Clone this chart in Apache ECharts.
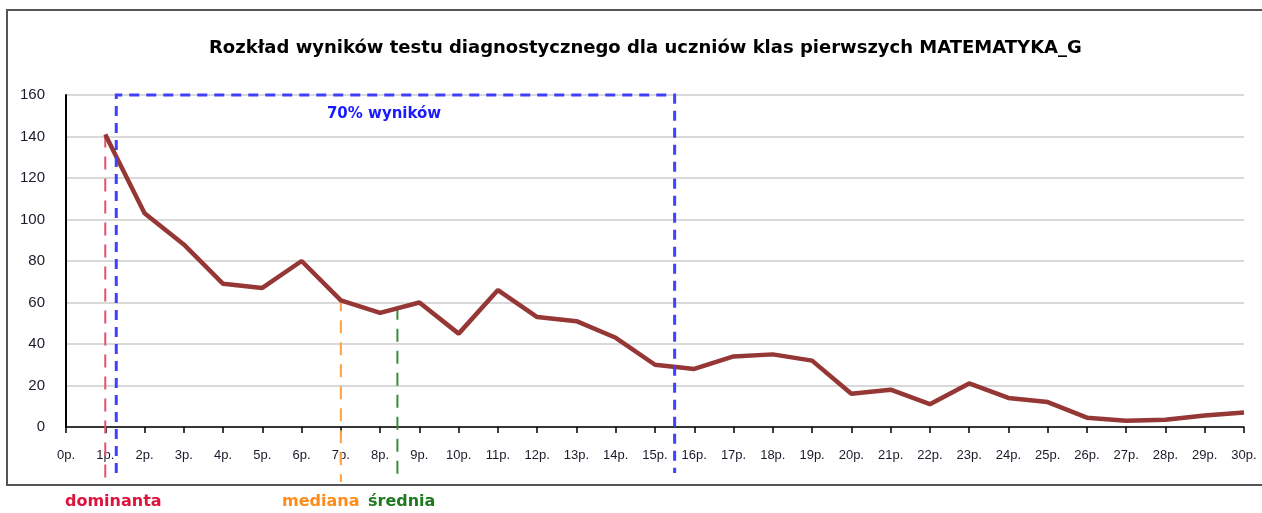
<!DOCTYPE html>
<html>
<head>
<meta charset="utf-8">
<script src="https://cdn.jsdelivr.net/npm/echarts@6/dist/echarts.min.js"></script>
<style>html,body{margin:0;padding:0;background:#fff;}#c{width:1262px;height:513px;}</style>
</head>
<body>
<div id="c"></div>
<script>
const titleText = 'Rozkład wyników testu diagnostycznego dla uczniów klas pierwszych MATEMATYKA_G';
const categories = ['0p.','1p.','2p.','3p.','4p.','5p.','6p.','7p.','8p.','9p.','10p.','11p.','12p.','13p.','14p.','15p.','16p.','17p.','18p.','19p.','20p.','21p.','22p.','23p.','24p.','25p.','26p.','27p.','28p.','29p.','30p.'];
const values = [null,141,103,88,69,67,80,61,55,60,45,66,53,51,43,30,28,34,35,32,16,18,11,21,14,12,4.5,3,3.5,5.5,7];
const yTicks = [0,20,40,60,80,100,120,140,160];

// annotation lines: [x position (points), top value]
const dominanta = [1, 141];
const mediana = [7, 62];
const srednia = [8.44, 58];
// 70% range box: [from x, to x, top value]
const range70 = [1.28, 15.5, 160];
const range70Label = [8.1, 151, '70% wyników'];
const bottomLabels = ['dominanta', 'mediana', 'średnia'];

const chart = echarts.init(document.getElementById('c'), null, {renderer: 'canvas'});

function vline(color, width, dash, ext) {
  return function (params, api) {
    const top = api.coord([api.value(0), api.value(1)]);
    const base = api.coord([api.value(0), 0]);
    return {
      type: 'line',
      shape: {x1: top[0], y1: top[1], x2: top[0], y2: base[1] + ext},
      style: {stroke: color, lineWidth: width, lineDash: dash}
    };
  };
}

const option = {
  animation: false,
  backgroundColor: '#fff',
  title: {
    text: titleText,
    left: 204,
    top: 34,
    textStyle: {fontFamily: 'DejaVu Sans', fontWeight: 'bold', fontSize: 18, color: '#000'}
  },
  grid: {left: 66, right: 18, top: 95, bottom: 86, containLabel: false},
  xAxis: [{
    type: 'category',
    data: categories,
    boundaryGap: false,
    axisLine: {lineStyle: {color: '#000', width: 1.5}},
    axisTick: {show: true, length: 6, lineStyle: {color: '#000', width: 1.5}},
    axisLabel: {interval: 0, fontFamily: 'Liberation Sans', fontSize: 13, color: '#1a1a2a', margin: 22},
    splitLine: {show: false}
  }, {
    type: 'value', min: 0, max: 30, show: false
  }],
  yAxis: {
    type: 'value',
    min: yTicks[0], max: yTicks[yTicks.length - 1], interval: 20,
    axisLine: {show: true, lineStyle: {color: '#000', width: 2}},
    axisTick: {show: false},
    axisLabel: {fontFamily: 'Liberation Sans', fontSize: 15, color: '#1a1a2a', margin: 21},
    splitLine: {lineStyle: {color: '#d9d9d9', width: 2}}
  },
  graphic: [
    {type: 'rect', shape: {x: 7, y: 10, width: 1270, height: 475}, style: {fill: null, stroke: '#555', lineWidth: 2}, z: 100},
    {type: 'text', left: 65, top: 494, style: {text: bottomLabels[0], fill: '#dc143c', font: 'bold 16px "DejaVu Sans"'}},
    {type: 'text', left: 282, top: 494, style: {text: bottomLabels[1], fill: '#ff8c1a', font: 'bold 16px "DejaVu Sans"'}},
    {type: 'text', left: 368, top: 494, style: {text: bottomLabels[2], fill: '#1e7a1e', font: 'bold 16px "DejaVu Sans"'}}
  ],
  series: [
    {
      type: 'custom', xAxisIndex: 1, yAxisIndex: 0, z: 1,
      data: [dominanta], renderItem: vline('#e8506a', 2, [13, 9], 55)
    },
    {
      type: 'custom', xAxisIndex: 1, yAxisIndex: 0, z: 1,
      data: [mediana], renderItem: vline('#ffa040', 2, [13, 9], 55)
    },
    {
      type: 'custom', xAxisIndex: 1, yAxisIndex: 0, z: 1,
      data: [srednia], renderItem: vline('#3a8a3a', 2, [13, 9], 55)
    },
    {
      type: 'line', xAxisIndex: 0, yAxisIndex: 0, z: 3,
      data: values, showSymbol: false, symbol: 'none', connectNulls: false,
      lineStyle: {color: '#953735', width: 4.5}
    },
    {
      type: 'custom', xAxisIndex: 1, yAxisIndex: 0, z: 4,
      data: [range70],
      renderItem: function (params, api) {
        const a = api.coord([api.value(0), api.value(2)]);
        const b = api.coord([api.value(1), api.value(2)]);
        const base = api.coord([api.value(0), 0])[1] + 46;
        return {
          type: 'polyline',
          shape: {points: [[a[0], base], [a[0], a[1]], [b[0], b[1]], [b[0], base]]},
          style: {stroke: '#4040ff', lineWidth: 3, lineDash: [10, 7], fill: null}
        };
      }
    },
    {
      type: 'custom', xAxisIndex: 1, yAxisIndex: 0, z: 4,
      data: [range70Label],
      renderItem: function (params, api) {
        const p = api.coord([api.value(0), api.value(1)]);
        return {
          type: 'text',
          x: p[0], y: p[1],
          style: {text: range70Label[2], fill: '#1a1aff', font: 'bold 15px "DejaVu Sans"', align: 'center', verticalAlign: 'middle'}
        };
      }
    }
  ]
};
chart.setOption(option);
</script>
</body>
</html>
